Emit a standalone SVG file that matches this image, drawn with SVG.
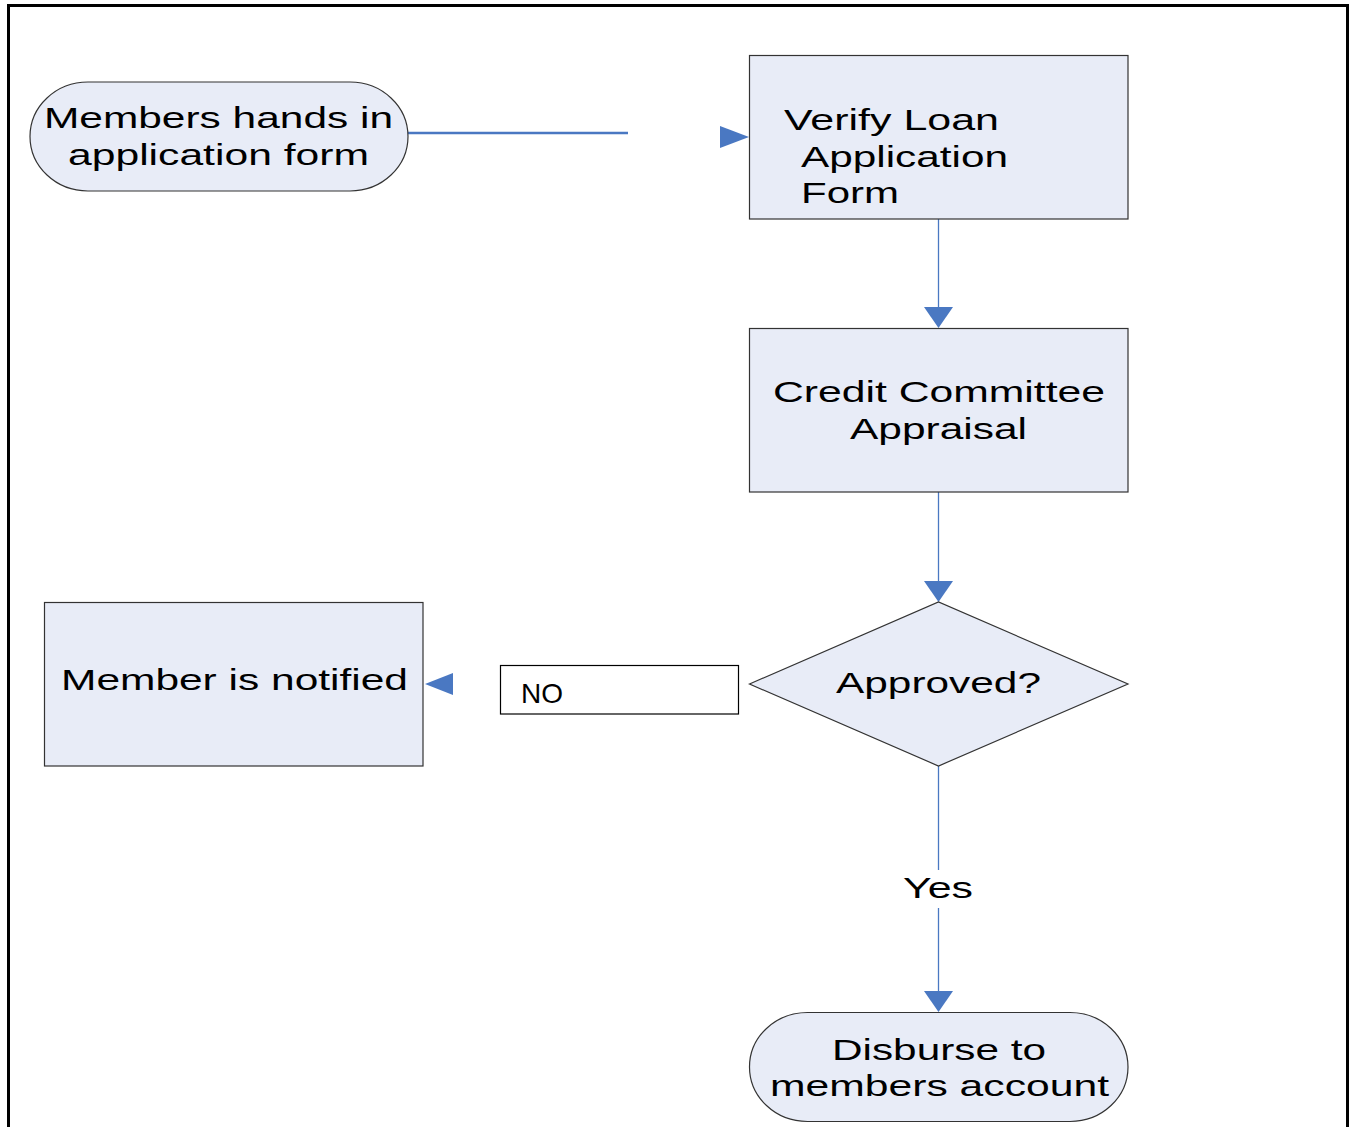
<svg xmlns="http://www.w3.org/2000/svg" width="1354" height="1127" viewBox="0 0 1354 1127">
<style>
.node{fill:#E8ECF7;stroke:#333;stroke-width:1.2}
.t{font-family:"Liberation Sans",Arial,sans-serif;font-size:29px;fill:#000}
.line{stroke:#4A78C2;fill:none}
.ah{fill:#4A78C2}
</style>
<rect width="1354" height="1127" fill="#fff"/>
<rect x="8.5" y="5.5" width="1339" height="1140" fill="none" stroke="#000" stroke-width="3"/>
<g id="connectors">
<line class="line" x1="408" y1="133" x2="628" y2="133" stroke-width="2.5"/>
<polygon class="ah" points="720,126 749,137 720,148"/>
<line class="line" x1="938.5" y1="219" x2="938.5" y2="310" stroke-width="1.3"/>
<polygon class="ah" points="924,307 953,307 938.5,328"/>
<line class="line" x1="938.5" y1="492" x2="938.5" y2="584" stroke-width="1.3"/>
<polygon class="ah" points="924,581 953,581 938.5,602"/>
<polygon class="ah" points="453,673 453,695 425,684"/>
<line class="line" x1="938.5" y1="766" x2="938.5" y2="870" stroke-width="1.3"/>
<line class="line" x1="938.5" y1="908" x2="938.5" y2="994" stroke-width="1.3"/>
<polygon class="ah" points="924,991 953,991 938.5,1012"/>
<text class="t" x="903" y="898" textLength="70" lengthAdjust="spacingAndGlyphs">Yes</text>
</g>
<g id="start">
<rect class="node" x="30" y="82" width="378" height="109" rx="58" ry="54.5"/>
<text class="t" x="44" y="128" textLength="349" lengthAdjust="spacingAndGlyphs">Members hands in</text>
<text class="t" x="68" y="165" textLength="301" lengthAdjust="spacingAndGlyphs">application form</text>
</g>
<g id="verify">
<rect class="node" x="749.5" y="55.5" width="378.5" height="163.5"/>
<text class="t" x="784" y="130" textLength="215" lengthAdjust="spacingAndGlyphs">Verify Loan</text>
<text class="t" x="801" y="167" textLength="207" lengthAdjust="spacingAndGlyphs">Application</text>
<text class="t" x="801" y="203" textLength="98" lengthAdjust="spacingAndGlyphs">Form</text>
</g>
<g id="credit">
<rect class="node" x="749.5" y="328.5" width="378.5" height="163.5"/>
<text class="t" x="773" y="402" textLength="332" lengthAdjust="spacingAndGlyphs">Credit Committee</text>
<text class="t" x="850" y="439" textLength="177" lengthAdjust="spacingAndGlyphs">Appraisal</text>
</g>
<g id="approved">
<polygon class="node" points="749.5,684 938.5,602 1128,684 938.5,766"/>
<text class="t" x="836" y="693" textLength="205" lengthAdjust="spacingAndGlyphs">Approved?</text>
</g>
<g id="no-label">
<rect x="500.5" y="665.5" width="238" height="48.5" fill="#fff" stroke="#000" stroke-width="1.2"/>
<text x="521" y="703" font-family="Liberation Sans, Arial, sans-serif" font-size="28" fill="#000">NO</text>
</g>
<g id="notified">
<rect class="node" x="44.5" y="602.5" width="378.5" height="163.5"/>
<text class="t" x="61" y="690" textLength="347" lengthAdjust="spacingAndGlyphs">Member is notified</text>
</g>
<g id="disburse">
<rect class="node" x="749.5" y="1012.5" width="378.5" height="109" rx="58" ry="54.5"/>
<text class="t" x="832" y="1060" textLength="214" lengthAdjust="spacingAndGlyphs">Disburse to</text>
<text class="t" x="770" y="1096" textLength="339" lengthAdjust="spacingAndGlyphs">members account</text>
</g>
</svg>
